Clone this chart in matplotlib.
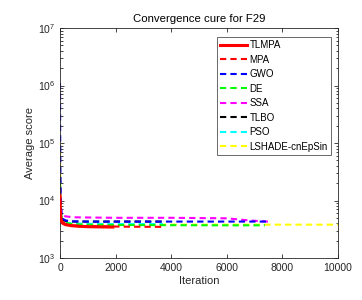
import matplotlib
matplotlib.use("Agg")
import matplotlib.pyplot as plt
from matplotlib.ticker import LogLocator, NullFormatter

# Convergence data (iteration, average score)
tlmpa_it = [0, 10, 30, 60, 100, 200, 400, 700, 1000, 1500, 1900]
tlmpa_val = [1.2e4, 7.0e3, 5.0e3, 4.3e3, 4.0e3, 3.8e3, 3.65e3, 3.55e3, 3.5e3, 3.47e3, 3.45e3]

mpa_it = [0, 10, 30, 60, 100, 200, 400, 800, 1500, 2500, 3780]
mpa_val = [1.5e4, 8.0e3, 5.5e3, 4.6e3, 4.2e3, 3.9e3, 3.7e3, 3.6e3, 3.55e3, 3.5e3, 3.48e3]

gwo_it = [0, 5, 15, 30, 60, 100, 200, 400, 1000, 3000, 5000, 7430]
gwo_val = [1.1e6, 2.0e5, 3.0e4, 8.0e3, 5.5e3, 4.8e3, 4.5e3, 4.35e3, 4.3e3, 4.3e3, 4.3e3, 4.3e3]

de_it = [0, 10, 30, 60, 100, 200, 400, 800, 2000, 4000, 6000, 7370]
de_val = [2.0e4, 9.0e3, 6.0e3, 5.0e3, 4.5e3, 4.1e3, 3.9e3, 3.8e3, 3.75e3, 3.72e3, 3.7e3, 3.7e3]

ssa_it = [0, 10, 30, 60, 100, 200, 500, 2000, 4000, 6000, 6800, 7480]
ssa_val = [1.8e4, 1.0e4, 7.5e3, 6.2e3, 5.6e3, 5.3e3, 5.1e3, 5.0e3, 5.0e3, 4.9e3, 4.5e3, 4.3e3]

tlbo_it = [0, 10, 30, 60, 100, 200, 400, 1000, 2000, 3780]
tlbo_val = [2.5e4, 1.1e4, 6.5e3, 5.0e3, 4.6e3, 4.4e3, 4.3e3, 4.3e3, 4.3e3, 4.3e3]

pso_it = [0, 10, 30, 60, 100, 200, 400, 800, 2000, 3700]
pso_val = [2.0e4, 9.0e3, 6.0e3, 4.8e3, 4.4e3, 4.1e3, 4.0e3, 3.95e3, 3.9e3, 3.9e3]

lshade_it = [0, 10, 30, 60, 100, 200, 400, 800, 2000, 5000, 8000, 10000]
lshade_val = [1.0e5, 2.0e4, 6.0e3, 4.6e3, 4.2e3, 4.0e3, 3.9e3, 3.85e3, 3.82e3, 3.8e3, 3.8e3, 3.8e3]

series = [
    ("TLMPA", tlmpa_it, tlmpa_val, "#ff0000", "-"),
    ("MPA", mpa_it, mpa_val, "#ff0000", "--"),
    ("GWO", gwo_it, gwo_val, "#0000ff", "--"),
    ("DE", de_it, de_val, "#00ff00", "--"),
    ("SSA", ssa_it, ssa_val, "#ff00ff", "--"),
    ("TLBO", tlbo_it, tlbo_val, "#000000", "--"),
    ("PSO", pso_it, pso_val, "#00ffff", "--"),
    ("LSHADE-cnEpSin", lshade_it, lshade_val, "#ffff00", "--"),
]

dark = "#262626"
plt.rcParams["font.family"] = "Liberation Sans"

fig = plt.figure(figsize=(3.62, 3.00), dpi=100, facecolor="white")
ax = fig.add_axes([60 / 362, 42 / 300, 278 / 362, 230 / 300])

# Draw in reverse order so TLMPA sits on top
for name, it, val, color, style in reversed(series):
    if style == "-":
        ax.plot(it, val, color=color, linestyle="-", linewidth=2.2, label=name, zorder=10)
    else:
        ax.plot(it, val, color=color, linestyle="--", dashes=(3, 2), linewidth=1.5, label=name)

ax.set_yscale("log")
ax.set_xlim(0, 10000)
ax.set_ylim(1e3, 1e7)
ax.set_xticks([0, 2000, 4000, 6000, 8000, 10000])
ax.set_yticks([1e3, 1e4, 1e5, 1e6, 1e7])
ax.yaxis.set_minor_locator(LogLocator(base=10, subs=range(2, 10)))
ax.yaxis.set_minor_formatter(NullFormatter())

ax.tick_params(axis="both", which="both", direction="in", top=True, right=True,
               colors=dark, labelsize=7.5, width=0.6)
ax.tick_params(axis="both", which="major", length=3)
ax.tick_params(axis="both", which="minor", length=1.8)
for spine in ax.spines.values():
    spine.set_color(dark)
    spine.set_linewidth(0.6)

ax.set_title("Convergence cure for F29", fontsize=8.2, color="black", pad=4)
ax.set_xlabel("Iteration", fontsize=8, color=dark, labelpad=2)
ax.set_ylabel("Average score", fontsize=8, color=dark, labelpad=2)

handles, labels = ax.get_legend_handles_labels()
handles, labels = handles[::-1], labels[::-1]
leg = ax.legend(handles, labels, loc="upper right", bbox_to_anchor=(0.975, 0.961),
                borderaxespad=0, fontsize=7, frameon=True, fancybox=False,
                handlelength=2.8, handletextpad=0.2, labelspacing=0.46,
                borderpad=0.35)
leg.get_frame().set_edgecolor(dark)
leg.get_frame().set_linewidth(0.6)

fig.savefig("out.png", dpi=100, facecolor="white")
